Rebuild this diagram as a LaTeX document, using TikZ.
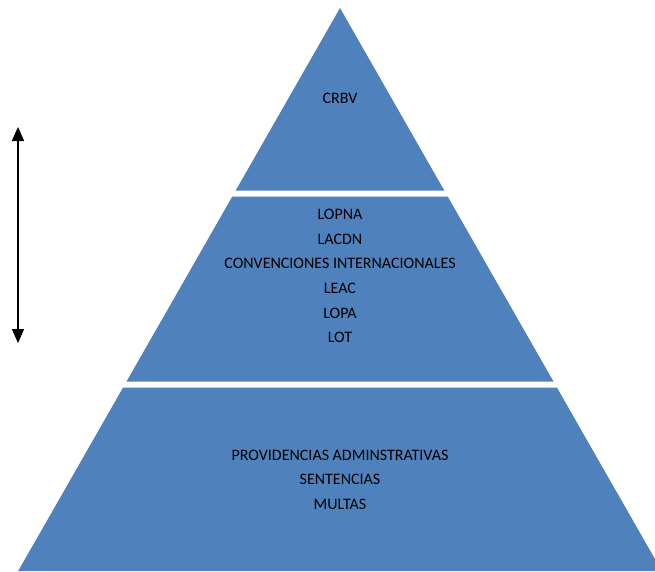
\documentclass[tikz,border=0pt]{standalone}
\usepackage{fontspec}
\setmainfont{Carlito}
\usetikzlibrary{arrows.meta}
\definecolor{tierblue}{HTML}{4F81BD}
\newcommand*{\apexx}{340}

\begin{document}
\begin{tikzpicture}[x=1pt, y=-1pt,
    tier/.style={fill=tierblue, draw=none},
    tierlabel/.style={align=center, text=black, font=\fontsize{16}{24.6}\selectfont},
    scalearrow/.style={{Triangle[width=12pt,length=14pt]}-{Triangle[width=12pt,length=14pt]}, line width=1.6pt}]
    \useasboundingbox (0,0) rectangle (655,571);
    \clip (0,0) rectangle (655,571);
    % top tier
    \draw[tier] (\apexx,8) -- (444.3,190.5) -- (235.7,190.5) -- cycle;
    % middle tier
    \draw[tier] (232.3,196.5) -- (447.7,196.5) -- (553.5,381.5) -- (126.5,381.5) -- cycle;
    % bottom tier
    \draw[tier] (123.1,387.5) -- (556.9,387.5) -- (661.8,571) -- (18.2,571) -- cycle;
    % labels
    \node[tierlabel] (crbv) at (\apexx,98) {CRBV};
    \node[tierlabel] (leyes) at (\apexx,276) {LOPNA\\LACDN\\CONVENCIONES INTERNACIONALES\\LEAC\\LOPA\\LOT};
    \node[tierlabel] (actos) at (\apexx,479.5) {PROVIDENCIAS ADMINSTRATIVAS\\SENTENCIAS\\MULTAS};
    % hierarchy arrow
    \coordinate (arrowtop) at (18,127);
    \coordinate (arrowbottom) at (18,343);
    \draw[scalearrow] (arrowtop) -- (arrowbottom);
\end{tikzpicture}
\end{document}
